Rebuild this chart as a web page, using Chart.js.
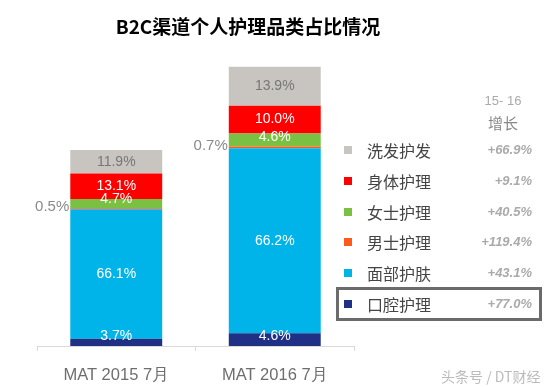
<!DOCTYPE html>
<html lang="zh">
<head>
<meta charset="UTF-8">
<title>B2C渠道个人护理品类占比情况</title>
<script src="https://cdn.jsdelivr.net/npm/chart.js"></script>
<style>
  body { margin: 0; background: #fff; }
  #wrap { position: relative; width: 556px; height: 387px; overflow: hidden; font-family: "Noto Sans CJK SC", sans-serif; }
  #chart { position: absolute; left: 0; top: 0; }
  #title { position: absolute; left: 0; width: 496px; top: 12px; text-align: center; font-weight: bold; font-size: 19px; line-height: 28px; color: #000; }
  .row { position: absolute; left: 336px; width: 206px; height: 30px; }
  .row .sw { position: absolute; left: 8px; top: 11px; width: 8px; height: 8px; }
  .row .nm { position: absolute; left: 31px; top: 0; line-height: 30px; font-size: 16px; color: #444; }
  .row .gr { position: absolute; right: 10px; top: 0; line-height: 30px; font-size: 13px; font-style: italic; font-weight: bold; color: #aaa; font-family: "Liberation Sans", Arial, sans-serif; }
  #box { position: absolute; left: 336px; top: 287px; width: 206px; height: 34px; border: 3px solid #6b6b6b; box-sizing: border-box; }
  .hd { position: absolute; left: 463px; width: 80px; text-align: center; }
  #wm { position: absolute; left: 441px; top: 366px; font-size: 14px; color: #bbb; line-height: 20px; }
</style>
</head>
<body>
<div id="wrap">
  <canvas id="chart" width="556" height="387"></canvas>
  <div id="title">B2C渠道个人护理品类占比情况</div>
  <div class="hd" style="top:93px; font-size:13px; color:#aaa; font-family:'Liberation Sans', Arial, sans-serif;">15- 16</div>
  <div class="hd" style="top:112px; font-size:15px; color:#888;">增长</div>
  <div id="legend"></div>
  <div id="box"></div>
  <div id="wm">头条号 / DT财经</div>
</div>

<script>
// categories listed top-down as in the legend
const categories = ['洗发护发', '身体护理', '女士护理', '男士护理', '面部护肤', '口腔护理'];
const growth = ['+66.9%', '+9.1%', '+40.5%', '+119.4%', '+43.1%', '+77.0%'];
const share2015 = [11.9, 13.1, 4.7, 0.5, 66.1, 3.7];
const share2016 = [13.9, 10.0, 4.6, 0.7, 66.2, 4.6];
const periods = ['MAT 2015 7月', 'MAT 2016 7月'];
// relative B2C size of each period
const totals = [100, 142.5];
const colors = ['#c8c5c0', '#ff0000', '#7ac143', '#ff5a1e', '#00b4ea', '#1f3085'];

// legend (html)
const legend = document.getElementById('legend');
categories.forEach((name, i) => {
    const row = document.createElement('div');
    row.className = 'row';
    row.style.top = (135 + i * 30.8) + 'px';
    row.innerHTML = '<div class="sw" style="background:' + colors[i] + '"></div>' +
        '<div class="nm">' + name + '</div><div class="gr">' + growth[i] + '</div>';
    legend.appendChild(row);
});

// stack from the bottom: reverse the legend order
const datasets = categories.map((name, i) => ({
    label: name,
    shares: [share2015[i], share2016[i]],
    data: [share2015[i] * totals[0] / 100, share2016[i] * totals[1] / 100],
    backgroundColor: colors[i],
    borderWidth: 0,
    outside: name === '男士护理',
    grey: name === '洗发护发'
})).reverse();

// percent labels on the segments
const segLabels = {
    id: 'segLabels',
    afterDatasetsDraw(chart) {
        const ctx = chart.ctx;
        ctx.save();
        ctx.font = '14px "Liberation Sans", Arial, sans-serif';
        ctx.textBaseline = 'middle';
        chart.data.datasets.forEach((ds, di) => {
            chart.getDatasetMeta(di).data.forEach((bar, i) => {
                const txt = ds.shares[i].toFixed(1) + '%';
                let y = (bar.y + bar.base) / 2;
                if (ds.outside) {
                    ctx.textAlign = 'right';
                    ctx.fillStyle = '#8a8a8a';
                    ctx.font = '15px "Liberation Sans", Arial, sans-serif';
                    ctx.fillText(txt, bar.x - bar.width / 2 - 1, y - 2);
                    ctx.font = '14px "Liberation Sans", Arial, sans-serif';
                    return;
                }
                y = Math.min(y, bar.base - 9.5);
                ctx.textAlign = 'center';
                ctx.fillStyle = ds.grey ? '#777' : '#fff';
                ctx.fillText(txt, bar.x, y);
            });
        });
        ctx.restore();
    }
};

new Chart(document.getElementById('chart'), {
    type: 'bar',
    data: { labels: periods, datasets: datasets },
    options: {
        responsive: false,
        animation: false,
        layout: { padding: { left: 37, right: 202, top: 60, bottom: 0 } },
        plugins: { legend: { display: false }, tooltip: { enabled: false } },
        scales: {
            x: {
                stacked: true,
                grid: { drawOnChartArea: false, tickLength: 5, color: '#d9d9d9' },
                border: { color: '#d9d9d9' },
                ticks: { color: '#6e6e6e', padding: 15, font: { size: 16.5, family: '"Liberation Sans", Arial, sans-serif' } },
                afterFit: s => { s.height = 41; }
            },
            y: { stacked: true, display: false, min: 0, max: 146 }
        },
        datasets: { bar: { categoryPercentage: 1, barPercentage: 0.58 } }
    },
    plugins: [segLabels]
});
</script>
</body>
</html>
